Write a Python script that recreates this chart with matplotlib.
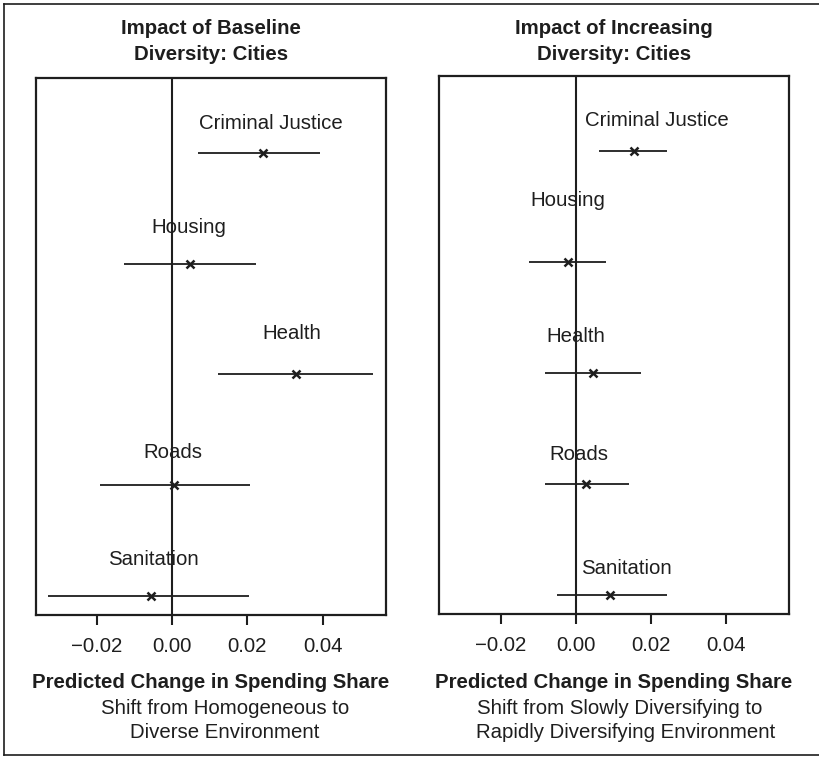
import matplotlib
matplotlib.use("Agg")
import matplotlib.pyplot as plt
from matplotlib.lines import Line2D

plt.rcParams['font.family'] = ['Liberation Sans', 'DejaVu Sans']

categories = ["Criminal Justice", "Housing", "Health", "Roads", "Sanitation"]

# Baseline diversity (cities): estimate, lower, upper
base_est = [0.0242, 0.0048, 0.0329, 0.0004, -0.0056]
base_lo = [0.0069, -0.0128, 0.0121, -0.0191, -0.0329]
base_hi = [0.0393, 0.0223, 0.0534, 0.0207, 0.0205]

# Increasing diversity (cities): estimate, lower, upper
incr_est = [0.0155, -0.0022, 0.0045, 0.0027, 0.0091]
incr_lo = [0.0061, -0.0125, -0.0083, -0.0083, -0.0051]
incr_hi = [0.0243, 0.0080, 0.0173, 0.0141, 0.0243]

xticks = [-0.02, 0.00, 0.02, 0.04]
xtick_labels = ["\u22120.02", "0.00", "0.02", "0.04"]

# label placement: x in data units, vertical lift above the row
base_lab_x = [0.0263, 0.0045, 0.0319, 0.0003, -0.0050]
base_lab_dy = [0.27, 0.33, 0.37, 0.29, 0.33]
incr_lab_x = [0.0215, -0.0021, -0.0001, 0.0008, 0.0135]
incr_lab_dy = [0.28, 0.56, 0.33, 0.26, 0.24]

W, H = 819, 759
FS = 14.7
fig = plt.figure(figsize=(W / 100, H / 100), dpi=100)
ink = "#1e1e1e"


def panel(rect, xlim, est, lo, hi, lab_x, lab_dy, title, sub_lines, sub_pos):
    ax = fig.add_axes(rect)
    n = len(categories)
    ypos = [n - i for i in range(n)]
    ax.axvline(0, color=ink, lw=1.5, zorder=1)
    for y, e, l, h, lx, dy, name in zip(ypos, est, lo, hi, lab_x, lab_dy, categories):
        ax.plot([l, h], [y, y], color=ink, lw=1.3, solid_capstyle='butt', zorder=2)
        ax.plot([e], [y], marker='x', color=ink, ms=6, mew=1.8, zorder=3)
        ax.text(lx, y + dy, name, ha='center', va='center', fontsize=FS, color=ink)
    ax.set_xlim(*xlim)
    ax.set_ylim(0.825, 5.68)
    ax.set_yticks([])
    ax.set_xticks(xticks)
    ax.set_xticklabels(xtick_labels, fontsize=FS, color=ink)
    ax.tick_params(axis='x', direction='out', length=7, width=1.5, pad=9, color=ink)
    for s in ax.spines.values():
        s.set_linewidth(1.6)
        s.set_color(ink)
    x0, x1 = rect[0], rect[0] + rect[2]
    xc = (x0 + x1) / 2
    fig.text(xc, 1 - 29 / H, title[0], ha='center', va='center', fontsize=FS,
             fontweight='bold', color=ink)
    fig.text(xc, 1 - 55 / H, title[1], ha='center', va='center', fontsize=FS,
             fontweight='bold', color=ink)
    fig.text(xc, 1 - 683 / H, "Predicted Change in Spending Share", ha='center',
             va='center', fontsize=FS, fontweight='bold', color=ink)
    for line, (px, py) in zip(sub_lines, sub_pos):
        fig.text(px / W, 1 - py / H, line, ha='center', va='center', fontsize=FS,
                 color=ink)
    return ax


panel([36 / W, 1 - 615 / H, 350 / W, 537 / H], (-0.0361, 0.0568),
      base_est, base_lo, base_hi, base_lab_x, base_lab_dy,
      ("Impact of Baseline", "Diversity: Cities"),
      ("Shift from Homogeneous to", "Diverse Environment"),
      ((225, 708), (225, 733)))

panel([439 / W, 1 - 614 / H, 350 / W, 538 / H], (-0.0365, 0.0568),
      incr_est, incr_lo, incr_hi, incr_lab_x, incr_lab_dy,
      ("Impact of Increasing", "Diversity: Cities"),
      ("Shift from Slowly Diversifying to", "Rapidly Diversifying Environment"),
      ((619.5, 708), (626, 733)))

# outer frame (left, top, bottom edges)
fx0, fy_top, fy_bot = 4 / W, 1 - 4 / H, 1 - 755 / H
for xs, ys in (([fx0, fx0], [fy_bot, fy_top]), ([fx0, 1.0], [fy_top, fy_top]),
               ([fx0, 1.0], [fy_bot, fy_bot])):
    fig.add_artist(Line2D(xs, ys, transform=fig.transFigure, color=ink, lw=1.2))

fig.savefig("out.png", dpi=100)
